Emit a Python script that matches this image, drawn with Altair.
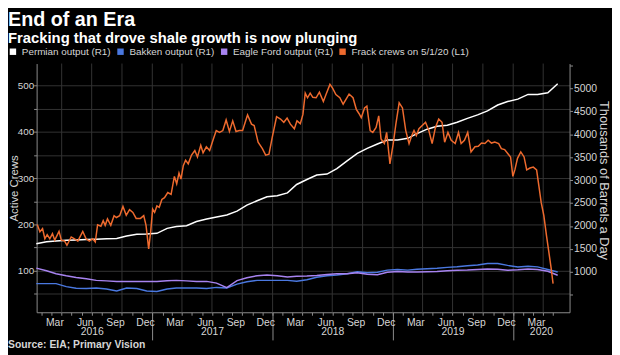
import altair as alt
import pandas as pd

# ---------------- data ----------------
series_names = ["Permian output (R1)", "Bakken output (R1)",
                "Eagle Ford output (R1)", "Frack crews on 5/1/20 (L1)"]
series_colors = ["#ffffff", "#4a78e0", "#a783f0", "#ee6a2e"]

# monthly output, thousand barrels a day (right axis), Jan 2016 .. May 2020
permian = [1613, 1656, 1671, 1689, 1695, 1704, 1710, 1719, 1727, 1781,
           1818, 1824, 1839, 1947, 1990, 2005, 2098, 2152, 2195, 2238,
           2324, 2453, 2550, 2636, 2658, 2722, 2905, 3013, 3110, 3132,
           3250, 3422, 3584, 3692, 3789, 3875, 3875, 3913, 4015, 4112,
           4176, 4198, 4262, 4348, 4424, 4510, 4639, 4715, 4768, 4870,
           4870, 4908, 5102]
bakken = [741, 741, 741, 676, 640, 633, 644, 622, 579, 644,
          633, 579, 569, 622, 644, 648, 648, 633, 659, 648,
          730, 784, 812, 812, 812, 812, 795, 827, 881, 913,
          928, 956, 999, 978, 989, 1036, 1047, 1036, 1053, 1068,
          1079, 1096, 1107, 1129, 1150, 1182, 1182, 1139, 1103, 1118,
          1107, 1049, 993]
eagle_ford = [1079, 1021, 956, 913, 877, 849, 812, 801, 790, 790,
              790, 790, 790, 806, 812, 801, 790, 790, 752, 655,
              806, 870, 913, 928, 913, 885, 902, 907, 917, 941,
              956, 956, 978, 946, 935, 989, 1006, 995, 993, 999,
              1006, 1021, 1032, 1038, 1049, 1060, 1053, 1032, 1042, 1060,
              1047, 1010, 924]

# frack crews (left axis)
crews = [
    ("2016-01-18", 200), ("2016-01-26", 184), ("2016-02-03", 191), ("2016-02-10", 169),
    ("2016-02-17", 178), ("2016-02-25", 169), ("2016-03-04", 180), ("2016-03-11", 166),
    ("2016-03-24", 185), ("2016-03-31", 166), ("2016-04-10", 164), ("2016-04-17", 155),
    ("2016-04-30", 173), ("2016-05-10", 169), ("2016-05-20", 164), ("2016-06-04", 185),
    ("2016-06-14", 169), ("2016-06-24", 164), ("2016-07-04", 169), ("2016-07-12", 162),
    ("2016-07-19", 199), ("2016-07-29", 196), ("2016-08-05", 208), ("2016-08-11", 198),
    ("2016-08-18", 212), ("2016-08-28", 198), ("2016-09-07", 219), ("2016-09-14", 215),
    ("2016-09-24", 219), ("2016-10-04", 239), ("2016-10-14", 220), ("2016-10-24", 232),
    ("2016-11-03", 226), ("2016-11-13", 213), ("2016-11-26", 213), ("2016-12-06", 219),
    ("2016-12-13", 198), ("2016-12-21", 147), ("2016-12-27", 184),
    ("2017-01-02", 233), ("2017-01-08", 226), ("2017-01-15", 240), ("2017-01-22", 237),
    ("2017-01-30", 254), ("2017-02-07", 258), ("2017-02-17", 269), ("2017-02-27", 265),
    ("2017-03-09", 304), ("2017-03-16", 288), ("2017-03-23", 311), ("2017-03-29", 298),
    ("2017-04-05", 327), ("2017-04-12", 339), ("2017-04-20", 331), ("2017-04-30", 350),
    ("2017-05-10", 360), ("2017-05-18", 346), ("2017-05-28", 371), ("2017-06-04", 355),
    ("2017-06-14", 368), ("2017-06-24", 360), ("2017-07-04", 382), ("2017-07-14", 403),
    ("2017-07-24", 399), ("2017-08-03", 403), ("2017-08-13", 426), ("2017-08-23", 401),
    ("2017-09-02", 424), ("2017-09-12", 401), ("2017-09-22", 403), ("2017-10-02", 403),
    ("2017-10-17", 437), ("2017-10-29", 417), ("2017-11-06", 414), ("2017-11-18", 378),
    ("2017-12-01", 364), ("2017-12-11", 350), ("2017-12-21", 352), ("2017-12-31", 389),
    ("2018-01-13", 433), ("2018-01-25", 428), ("2018-02-04", 421), ("2018-02-14", 430),
    ("2018-02-24", 417), ("2018-03-08", 407), ("2018-03-16", 424), ("2018-03-26", 418),
    ("2018-04-03", 438), ("2018-04-10", 484), ("2018-04-17", 474), ("2018-04-25", 484),
    ("2018-05-03", 475), ("2018-05-13", 474), ("2018-05-23", 486), ("2018-06-04", 466),
    ("2018-06-12", 481), ("2018-06-24", 503), ("2018-07-02", 495), ("2018-07-12", 481),
    ("2018-07-24", 474), ("2018-08-03", 460), ("2018-08-21", 482), ("2018-09-02", 474),
    ("2018-09-12", 449), ("2018-09-20", 440), ("2018-09-27", 431), ("2018-10-07", 452),
    ("2018-10-14", 456), ("2018-10-24", 403), ("2018-11-01", 399), ("2018-11-11", 410),
    ("2018-11-19", 435), ("2018-11-26", 385), ("2018-12-06", 375), ("2018-12-13", 399),
    ("2018-12-23", 331),
    ("2019-01-02", 375), ("2019-01-10", 417), ("2019-01-20", 463), ("2019-01-30", 452),
    ("2019-02-09", 403), ("2019-02-19", 375), ("2019-02-27", 392), ("2019-03-06", 403),
    ("2019-03-13", 392), ("2019-03-21", 407), ("2019-03-31", 414), ("2019-04-10", 421),
    ("2019-04-20", 403), ("2019-04-30", 375), ("2019-05-10", 410), ("2019-05-20", 428),
    ("2019-05-30", 421), ("2019-06-07", 378), ("2019-06-17", 399), ("2019-06-27", 382),
    ("2019-07-09", 375), ("2019-07-19", 399), ("2019-07-27", 375), ("2019-08-06", 382),
    ("2019-08-16", 399), ("2019-08-26", 357), ("2019-09-07", 368), ("2019-09-17", 369),
    ("2019-09-27", 376), ("2019-10-07", 375), ("2019-10-17", 382), ("2019-10-27", 376),
    ("2019-11-06", 378), ("2019-11-18", 375), ("2019-11-26", 364), ("2019-12-06", 362),
    ("2019-12-16", 353), ("2019-12-24", 346), ("2019-12-31", 304),
    ("2020-01-06", 318), ("2020-01-14", 343), ("2020-01-24", 357), ("2020-02-03", 346),
    ("2020-02-11", 318), ("2020-02-21", 322), ("2020-03-02", 324), ("2020-03-12", 318),
    ("2020-03-19", 283), ("2020-03-26", 247), ("2020-04-03", 219), ("2020-04-11", 176),
    ("2020-04-18", 141), ("2020-04-25", 106), ("2020-05-01", 72),
]

left_ticks = list(range(50, 501, 50))
right_ticks = list(range(500, 5501, 500))
year_label_dates = [(2016, 7, 1), (2017, 7, 1), (2018, 7, 1), (2019, 7, 1), (2020, 3, 25)]
year_sep_dates = [(2017, 1, 1), (2018, 1, 1), (2019, 1, 1), (2020, 1, 1)]
grid_quarters = [(y, m, 1) for y in range(2016, 2021) for m in (1, 4, 7, 10)
                 if (y, m) > (2016, 1) and (y, m) <= (2020, 4)]
month_ticks = [(y, m, 1) for y in range(2016, 2021) for m in range(1, 13)
               if (y, m) > (2016, 1) and (y, m) <= (2020, 5)]
source_text = "Source: EIA; Primary Vision"

# ---------------- tables ----------------
months = pd.date_range("2016-01-01", periods=len(permian), freq="MS") + pd.Timedelta(days=14)
out_df = pd.concat([
    pd.DataFrame({"date": months, "series": series_names[0], "value": permian}),
    pd.DataFrame({"date": months, "series": series_names[1], "value": bakken}),
    pd.DataFrame({"date": months, "series": series_names[2], "value": eagle_ford}),
])
crew_df = pd.DataFrame(crews, columns=["date", "crews"])
crew_df["date"] = pd.to_datetime(crew_df["date"])
crew_df["series"] = series_names[3]
grid_df = pd.DataFrame({"date": [pd.Timestamp(y, m, d) for y, m, d in grid_quarters]})
src_df = pd.DataFrame({"t": [source_text]})

# ---------------- styling ----------------
W, H = 540, 252
FONT = "Liberation Sans"
AX = "#8c8c8c"
LBL = "#d6d6d6"


def dt(t):
    return alt.DateTime(year=t[0], month=t[1], date=t[2])


xscale = alt.Scale(domain=[dt((2016, 1, 16)), dt((2020, 6, 20))])
left_scale = alt.Scale(domain=[10, 548], nice=False, zero=False)
right_scale = alt.Scale(domain=[116, 5544], nice=False, zero=False)
color_scale = alt.Scale(domain=series_names, range=series_colors)

legend = alt.Legend(orient="none", legendX=-29, legendY=-17, direction="horizontal",
                    title=None, symbolType="square", symbolSize=9, symbolStrokeWidth=3.5,
                    labelFontSize=10, labelColor=LBL, labelFont=FONT, columnPadding=0,
                    labelOffset=4, padding=0, columns=4, gridAlign="none")

month_axis = alt.Axis(orient="bottom", values=[dt(t) for t in month_ticks], format="%b",
                      labelExpr="month(datum.value) % 3 == 2 ? datum.label : ''",
                      labelOffset=3, tickSize=3, tickColor=AX, domainColor=AX,
                      labelColor=LBL, labelFontSize=10.5, labelFont=FONT, labelPadding=2,
                      grid=False, title=None, labelOverlap=False, labelFlush=False)
year_axis = alt.Axis(orient="bottom", values=[dt(t) for t in year_label_dates], format="%Y",
                     tickSize=0, domain=False, labelPadding=15, labelColor=LBL,
                     labelFontSize=10.5, labelFont=FONT, grid=False, title=None,
                     labelOverlap=False, labelFlush=False)
sep_axis = alt.Axis(orient="bottom", values=[dt(t) for t in year_sep_dates], tickSize=28,
                    labels=False, domain=False, tickColor=AX, grid=False, title=None)

left_axis = alt.Axis(orient="left", values=left_ticks,
                     labelExpr="datum.value % 100 == 0 ? datum.label : ''",
                     grid=True, gridColor="#333333", gridWidth=1, domainColor=AX,
                     tickColor=AX, tickSize=3, labelColor=LBL, labelFontSize=10,
                     labelFont=FONT, labelPadding=0, title="Active Crews", titleColor=LBL,
                     titleFontSize=11.5, titleFont=FONT, titleFontWeight="normal",
                     titleX=-19, titleY=H / 2, titleAngle=270, titleBaseline="alphabetic",
                     titleAlign="center")
right_axis = alt.Axis(orient="right", values=right_ticks,
                      labelExpr="datum.value >= 1000 && datum.value <= 5000 ? datum.label : ''",
                      grid=False, domainColor=AX, tickColor=AX, tickSize=3, labelColor=LBL,
                      labelFontSize=10.5, labelFont=FONT, labelPadding=1, format="d",
                      title="Thousands of Barrels a Day", titleColor=LBL, titleFontSize=13,
                      titleFont=FONT, titleFontWeight="normal", titleX=27.5, titleY=H / 2 - 8,
                      titleAngle=90, titleBaseline="bottom", titleAlign="center")

grid = alt.Chart(grid_df).mark_rule(color="#333333", strokeWidth=1).encode(
    x=alt.X("date:T", scale=xscale, axis=year_axis))

outputs = alt.Chart(out_df).mark_line(strokeWidth=1.5).encode(
    x=alt.X("date:T", scale=xscale, axis=sep_axis),
    y=alt.Y("value:Q", scale=right_scale, axis=right_axis),
    color=alt.Color("series:N", scale=color_scale, legend=legend),
)

crew_line = alt.Chart(crew_df).mark_line(strokeWidth=1.5).encode(
    x=alt.X("date:T", scale=xscale, axis=month_axis),
    y=alt.Y("crews:Q", scale=left_scale, axis=left_axis),
    color=alt.Color("series:N", scale=color_scale, legend=legend),
)

source = alt.Chart(src_df).mark_text(align="left", baseline="middle", fontSize=10.5,
                                     fontWeight="bold", font=FONT, color=LBL).encode(
    x=alt.value(-29), y=alt.value(H + 33), text="t:N")

chart = alt.layer(grid, outputs, crew_line, source).resolve_scale(
    y="independent").resolve_axis(x="independent", y="independent").properties(
    width=W, height=H,
    autosize=alt.AutoSizeParams(type="none"),
    padding={"left": 29, "top": 54, "right": 43, "bottom": 41},
    title=alt.TitleParams(text="End of an Era",
                          subtitle="Fracking that drove shale growth is now plunging",
                          anchor="start", frame="group", dx=-29, offset=1,
                          font=FONT, fontSize=20, fontWeight="bold", color="#ffffff",
                          subtitleFont=FONT, subtitleFontSize=15, subtitleFontWeight="bold",
                          subtitleColor="#ffffff", subtitlePadding=1),
).configure(background="#000000").configure_view(stroke=None)

chart.save("out.html", embed_options={"renderer": "svg", "actions": False})
